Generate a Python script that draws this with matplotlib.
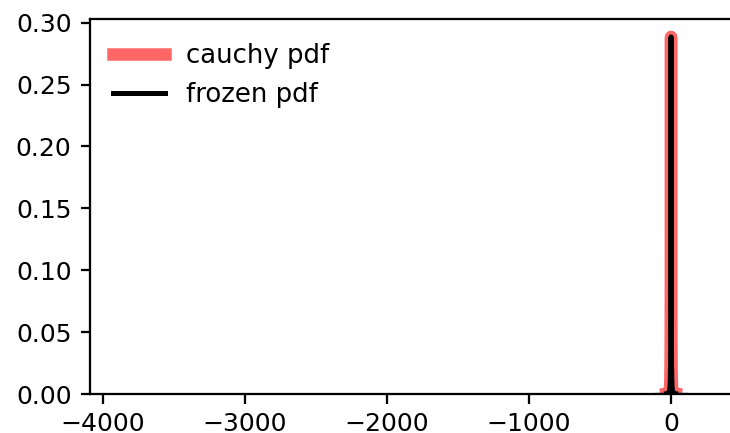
import numpy as np
import matplotlib
matplotlib.use("Agg")
import matplotlib.pyplot as plt

plt.rcParams['font.size'] = 10

# Cauchy pdf sampled between ppf(0.01) and ppf(0.99)
x_lo, x_hi, n_pts = -31.82, 31.82, 100
x = np.linspace(x_lo, x_hi, n_pts)
pdf = 1.0 / (np.pi * (1.0 + x**2))

# histogram of random samples (density)
hist_edges = [-3887, -2000, -113, -30, 30, 120, 210, 290]
hist_density = [0.00001, 0.00002, 0.0015, 0.02, 0.0015, 0.0012, 0.0010]

x_ticks = [-4000, -3000, -2000, -1000, 0]
y_ticks = [0.00, 0.05, 0.10, 0.15, 0.20, 0.25, 0.30]

fig = plt.figure(figsize=(730/180, 433/180), dpi=180)
ax = fig.add_axes([0.123, 0.090, 0.877, 0.865])

ax.plot(x, pdf, 'r-', lw=5, alpha=0.6, label='cauchy pdf')
ax.plot(x, pdf, 'k-', lw=2, label='frozen pdf')
centers = [(a + b) / 2 for a, b in zip(hist_edges[:-1], hist_edges[1:])]
ax.hist(centers, bins=hist_edges, weights=hist_density, histtype='stepfilled', alpha=0.2)
ax.set_xlim(-4092, 415)
ax.set_ylim(0, 0.3026)
ax.set_xticks(x_ticks)
ax.set_yticks(y_ticks)
ax.set_yticklabels([f"{v:.2f}" for v in y_ticks])
ax.tick_params(length=3.8, width=0.9)
for s in ax.spines.values():
    s.set_linewidth(0.9)
ax.spines['right'].set_visible(False)
ax.legend(loc='upper left', frameon=False, fontsize=10.4)
fig.savefig('out.png', dpi=180)
